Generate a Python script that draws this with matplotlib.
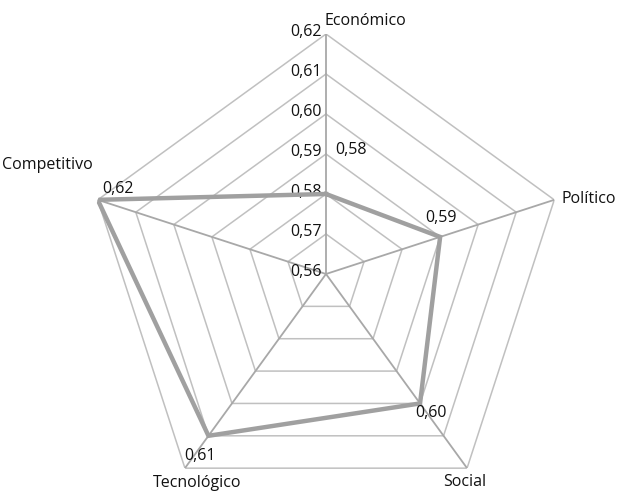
import numpy as np
import matplotlib
matplotlib.use("Agg")
import matplotlib.pyplot as plt

plt.rcParams['font.family'] = ['Open Sans', 'DejaVu Sans']

categories = ['Económico', 'Político', 'Social', 'Tecnológico', 'Competitivo']
values = [0.58, 0.59, 0.60, 0.61, 0.62]
rings = [0.56, 0.57, 0.58, 0.59, 0.60, 0.61, 0.62]
ring_labels = ['0,56', '0,57', '0,58', '0,59', '0,60', '0,61', '0,62']
value_labels = ['0,58', '0,59', '0,60', '0,61', '0,62']

n = len(categories)
theta = np.linspace(0, 2 * np.pi, n, endpoint=False)
theta_closed = np.append(theta, theta[0])

fig = plt.figure(figsize=(6.19, 4.94), dpi=100)
W, H = 619, 494
cx, cy, R = 326, 274, 240
ax = fig.add_axes([(cx - R) / W, (H - cy - R) / H, 2 * R / W, 2 * R / H], polar=True)
ax.set_theta_zero_location('N')
ax.set_theta_direction(-1)
ax.set_ylim(rings[0], rings[-1])
ax.grid(False)
ax.spines['polar'].set_visible(False)
ax.set_xticks([])
ax.set_yticks([])
ax.patch.set_visible(False)

# pentagon rings
for r in rings[1:]:
    ax.plot(theta_closed, [r] * (n + 1), color='#c0c0c0', lw=1.1, zorder=1)
# spokes
for t in theta:
    ax.plot([t, t], [rings[0], rings[-1]], color='#a8a8a8', lw=1.3, zorder=1)

fs = 11.5

# ring labels along the top spoke
for r, lab in zip(rings, ring_labels):
    ax.annotate(lab, xy=(0, r), xytext=(-4, 2), textcoords='offset pixels',
                ha='right', va='center', fontsize=fs, color='#111111')

# data
ax.plot(theta_closed, values + values[:1], color='#a0a0a0', lw=3.2, zorder=3,
        solid_joinstyle='miter')

value_offsets = [(25, 44), (1, 19), (11, -10), (-8, -20), (20, 11)]
for t, v, lab, off in zip(theta, values, value_labels, value_offsets):
    ax.annotate(lab, xy=(t, v), xytext=off, textcoords='offset pixels',
                ha='center', va='center', fontsize=fs, color='#111111')

cat_offsets = [(-2, 13), (7, 1), (-2, -14), (12, -15), (-5, 35)]
cat_ha = ['left', 'left', 'center', 'center', 'right']
for t, lab, off, ha in zip(theta, categories, cat_offsets, cat_ha):
    ax.annotate(lab, xy=(t, rings[-1]), xytext=off, textcoords='offset pixels',
                ha=ha, va='center', fontsize=fs, color='#111111',
                annotation_clip=False)

fig.savefig('out.png', dpi=100)
